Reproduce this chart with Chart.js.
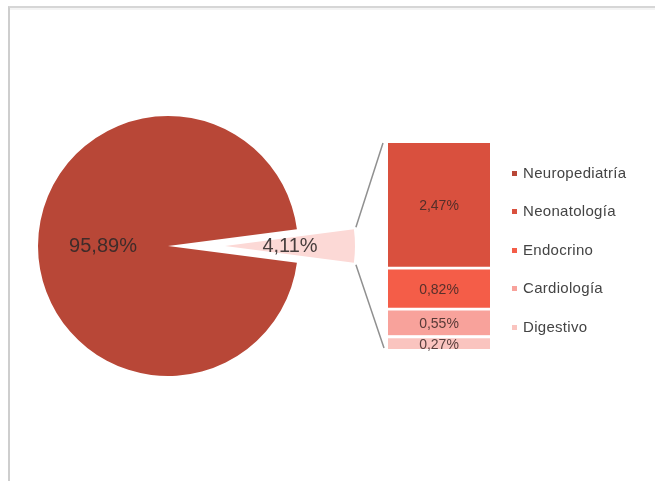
<!DOCTYPE html>
<html>
<head>
<meta charset="utf-8">
<script src="https://cdn.jsdelivr.net/npm/chart.js@4/dist/chart.umd.min.js"></script>
<style>
  html, body { margin: 0; padding: 0; background: #fff; width: 655px; height: 481px; overflow: hidden;
    font-family: 'Liberation Sans', Arial, sans-serif; }
  #frame { position: absolute; left: 8px; top: 6px; width: 660px; height: 490px;
    border-top: 2px solid #d6d6d6; border-left: 2px solid #cecece; box-sizing: border-box; }
  #frame::after { content: ''; position: absolute; left: 0; top: 0; right: 0; height: 2px; background: #f4f4f4; }
  canvas { position: absolute; top: 0; left: 0; }
  #bar { left: 388px; }
  #links { pointer-events: none; }
  #legend { position: absolute; left: 0; top: 0; }
  .item { position: absolute; left: 512px; height: 20px; line-height: 20px; white-space: nowrap;
    font-size: 15px; letter-spacing: 0.3px; color: #444; }
  .item i { position: absolute; left: 0; top: 8px; width: 5px; height: 5px; }
  .item span { position: absolute; left: 11px; top: 0; }
</style>
</head>
<body>
<div id="frame"></div>
<canvas id="pieMain" width="400" height="481"></canvas>
<canvas id="pieRest" width="400" height="481"></canvas>
<canvas id="bar" width="102" height="481"></canvas>
<canvas id="links" width="655" height="481"></canvas>
<div id="legend"></div>
<script>
// Main split: Neuropediatría vs. the remaining specialties
const pieLabels = ['Neuropediatría', 'Otras'];
const pieValues = [95.89, 4.11];

// Breakdown of the remaining share, listed top to bottom
const barLabels = ['Neonatología', 'Endocrino', 'Cardiología', 'Digestivo'];
const barValues = [2.47, 0.82, 0.55, 0.27];

const pieColors = ['#b84737', '#fcd9d6'];
const barColors = ['#d9503e', '#f45d48', '#f8a29b', '#fac4bf'];

const FONT = "'Liberation Sans', Arial, sans-serif";
Chart.defaults.font.family = FONT;

const pct = v => v.toFixed(2).replace('.', ',') + '%';
const pieTotal = pieValues.reduce((a, b) => a + b, 0);
const barTotal = barValues.reduce((a, b) => a + b, 0);
const EXPLODE = 57;   // distance the "rest" slice is pulled out of the pie

// Percentage label for the one slice a pie layer shows
function pieLabelPlugin(index) {
  return {
    id: 'pieLabel' + index,
    afterDatasetsDraw(chart) {
      const { ctx } = chart;
      const arc = chart.getDatasetMeta(0).data[index];
      const mid = (arc.startAngle + arc.endAngle) / 2;
      const d = arc.outerRadius * 0.5;
      ctx.save();
      ctx.font = '20px ' + FONT;
      ctx.fillStyle = 'rgba(45,40,40,0.88)';
      ctx.textAlign = 'center';
      ctx.textBaseline = 'middle';
      ctx.fillText(pct(pieValues[index]), arc.x + Math.cos(mid) * d, arc.y + Math.sin(mid) * d);
      ctx.restore();
    }
  };
}

// Two identical pie layers; each one paints a single slice so the
// smaller slice can sit detached from the main disc.
function pieLayer(canvasId, visibleIndex) {
  return new Chart(document.getElementById(canvasId), {
    type: 'pie',
    data: {
      labels: pieLabels,
      datasets: [{
        data: pieValues,
        backgroundColor: pieColors.map((c, i) => i === visibleIndex ? c : 'rgba(0,0,0,0)'),
        borderWidth: 0,
        hoverOffset: 0,
        clip: false
      }]
    },
    options: {
      responsive: false,
      animation: false,
      events: [],
      rotation: 90 + (pieValues[1] / pieTotal) * 180,
      radius: 130,
      layout: { padding: { left: 0, right: 64, top: 11, bottom: 0 } },
      plugins: { legend: { display: false }, tooltip: { enabled: false } }
    },
    plugins: [pieLabelPlugin(visibleIndex)]
  });
}

const pieMain = pieLayer('pieMain', 0);
// pull the second layer out along the mid-angle of its slice
(function () {
  const arc = pieMain.getDatasetMeta(0).data[1];
  const mid = (arc.startAngle + arc.endAngle) / 2;
  const c = document.getElementById('pieRest');
  c.style.left = (Math.cos(mid) * EXPLODE) + 'px';
  c.style.top = (Math.sin(mid) * EXPLODE) + 'px';
})();
const pieRest = pieLayer('pieRest', 1);

// Percentage labels centred in each stacked segment
const barLabelPlugin = {
  id: 'barLabels',
  afterDatasetsDraw(chart) {
    const { ctx } = chart;
    ctx.save();
    ctx.font = '14px ' + FONT;
    ctx.fillStyle = 'rgba(60,40,38,0.85)';
    ctx.textAlign = 'center';
    ctx.textBaseline = 'middle';
    chart.data.datasets.forEach((ds, di) => {
      const el = chart.getDatasetMeta(di).data[0];
      const bw = typeof ds.borderWidth === 'object' ? ds.borderWidth.top : 0;
      ctx.fillText(pct(ds.data[0]), el.x, (el.y + bw + el.base) / 2 + 1);
    });
    ctx.restore();
  }
};

// Stack from the bottom up: last listed category sits at the base
const order = barLabels.map((_, i) => i).reverse();
const barChart = new Chart(document.getElementById('bar'), {
  type: 'bar',
  data: {
    labels: [''],
    datasets: order.map(i => ({
      label: barLabels[i],
      data: [barValues[i]],
      backgroundColor: barColors[i],
      borderColor: '#ffffff',
      borderWidth: i === 0 ? 0 : { top: 3, left: 0, right: 0, bottom: 0 },
      borderSkipped: 'start',
      categoryPercentage: 1,
      barPercentage: 1
    }))
  },
  options: {
    responsive: false,
    animation: false,
    events: [],
    layout: { padding: { left: 0, right: 0, top: 143, bottom: 132 } },
    scales: {
      x: { stacked: true, display: false },
      y: { stacked: true, display: false, min: 0, max: barTotal }
    },
    plugins: { legend: { display: false }, tooltip: { enabled: false } }
  },
  plugins: [barLabelPlugin]
});

// Connector lines from the detached slice to the breakdown bar
(function drawLinks() {
  const lc = document.getElementById('links').getContext('2d');
  const pieBox = document.getElementById('pieRest').getBoundingClientRect();
  const barBox = document.getElementById('bar').getBoundingClientRect();
  const arc = pieRest.getDatasetMeta(0).data[1];
  const cx = pieBox.left + arc.x;
  const cy = pieBox.top + arc.y;
  const r = arc.outerRadius;
  const up = { x: cx + Math.cos(arc.startAngle) * r, y: cy + Math.sin(arc.startAngle) * r };
  const dn = { x: cx + Math.cos(arc.endAngle) * r, y: cy + Math.sin(arc.endAngle) * r };

  const topEl = barChart.getDatasetMeta(barChart.data.datasets.length - 1).data[0];
  const botEl = barChart.getDatasetMeta(0).data[0];
  const left = barBox.left + topEl.x - topEl.width / 2;
  const top = barBox.top + topEl.y;
  const bottom = barBox.top + botEl.base;

  lc.strokeStyle = 'rgba(125,125,125,0.85)';
  lc.lineWidth = 1.5;
  lc.beginPath();
  lc.moveTo(up.x + 2, up.y - 2);
  lc.lineTo(left - 5, top);
  lc.moveTo(dn.x + 2, dn.y + 2);
  lc.lineTo(left - 4, bottom - 1);
  lc.stroke();
})();

// Legend for all five specialties
(function buildLegend() {
  const names = [pieLabels[0]].concat(barLabels);
  const colors = [pieColors[0]].concat(barColors);
  const box = document.getElementById('legend');
  names.forEach((n, i) => {
    const d = document.createElement('div');
    d.className = 'item';
    d.style.top = (173 + i * 38.4 - 10) + 'px';
    const m = document.createElement('i');
    m.style.background = colors[i];
    const s = document.createElement('span');
    s.textContent = n;
    d.appendChild(m);
    d.appendChild(s);
    box.appendChild(d);
  });
})();
</script>
</body>
</html>
